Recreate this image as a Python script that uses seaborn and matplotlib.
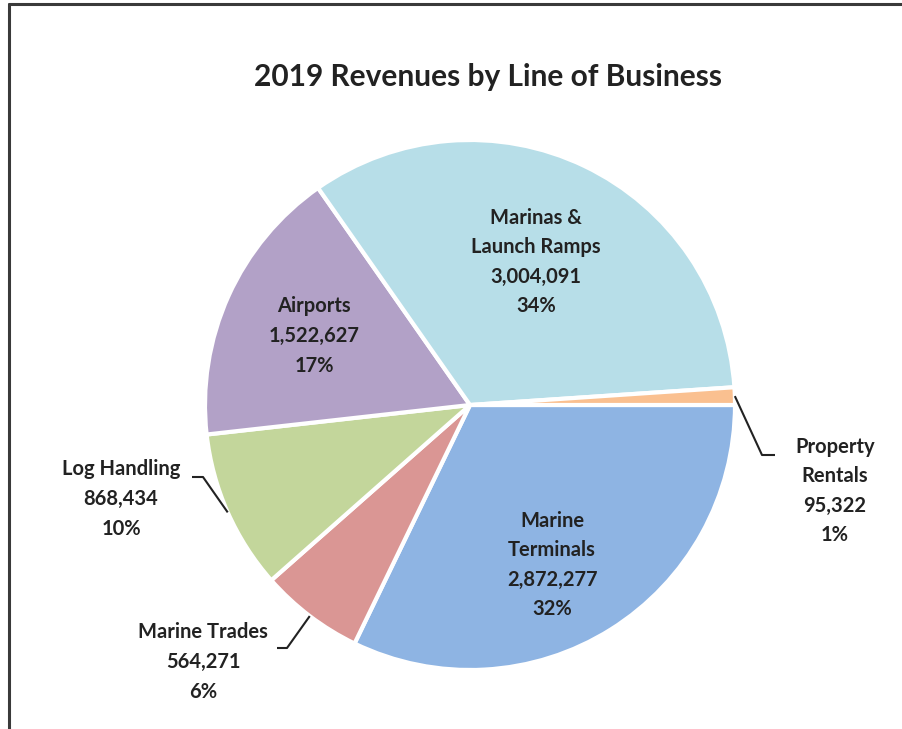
import numpy as np
import matplotlib
matplotlib.use('Agg')
import matplotlib.pyplot as plt
from matplotlib.lines import Line2D
import seaborn as sns

# Data (clockwise from 3 o'clock, as in the source chart)
categories = ['Marine Terminals', 'Marine Trades', 'Log Handling', 'Airports',
              'Marinas & Launch Ramps', 'Property Rentals']
display_names = ['Marine\nTerminals', 'Marine Trades', 'Log Handling', 'Airports',
                 'Marinas &\nLaunch Ramps', 'Property\nRentals']
revenues = [2872277, 564271, 868434, 1522627, 3004091, 95322]
colors = ['#8EB4E3', '#DA9694', '#C3D69B', '#B2A1C7', '#B7DEE8', '#FAC090']
title = '2019 Revenues by Line of Business'

sns.set_theme(style='white')
plt.rcParams['font.family'] = ['Lato', 'DejaVu Sans']

W, H = 902, 729
R = 265            # pie radius in pixels
cx, cy = 470, 405  # pie centre in pixels


def px(x, y):
    # pixel position -> data coords (pie radius = 1)
    return (x - cx) / R, (cy - y) / R


fig = plt.figure(figsize=(W / 100, H / 100), dpi=100)
fig.patch.set_facecolor('white')
ax = fig.add_axes([0, 0, 1, 1])

wedges, _ = ax.pie(revenues, colors=colors, startangle=0, counterclock=False,
                   radius=1, center=(0, 0),
                   wedgeprops=dict(edgecolor='white', linewidth=3))
ax.set_xlim(-cx / R, (W - cx) / R)
ax.set_ylim(-(H - cy) / R, cy / R)
ax.axis('off')

total = sum(revenues)
txt_color = '#222222'

# label layout: (centre x, centre y in pixels, leader elbow, leader end)
layout = {
    'Marinas & Launch Ramps': (536, 262, None, None),
    'Airports': (314, 336, None, None),
    'Marine Terminals': (552, 565, None, None),
    'Property Rentals': (835, 491, (762, 455), (775, 455)),
    'Log Handling': (121, 499, (203, 477), (192, 477)),
    'Marine Trades': (203, 662, (287, 648), (277, 648)),
}

for w, cat, name, val in zip(wedges, categories, display_names, revenues):
    lx, ly, elbow, end = layout[cat]
    pct = round(val / total * 100)
    label = f'{name}\n{val:,}\n{pct}%'
    tx, ty = px(lx, ly)
    ax.text(tx, ty, label, ha='center', va='center', fontsize=14.5,
            fontweight='bold', color=txt_color, linespacing=1.6)
    if elbow is not None:
        mid = np.deg2rad((w.theta1 + w.theta2) / 2)
        sx, sy = np.cos(mid), np.sin(mid)
        ex, ey = px(*elbow)
        fx, fy = px(*end)
        ax.plot([sx, ex, fx], [sy, ey, fy], color=txt_color, lw=1.5,
                solid_capstyle='butt')

fig.text(488 / W, 1 - 77 / H, title, ha='center', va='center',
         fontsize=21.5, fontweight='bold', color=txt_color)

# chart frame (left and top edges visible in the source)
fig.add_artist(Line2D([9 / W, 9 / W], [0, 1 - 4 / H], transform=fig.transFigure,
                      color='#3a3a3a', lw=2.2))
fig.add_artist(Line2D([9 / W, 1], [1 - 4 / H, 1 - 4 / H], transform=fig.transFigure,
                      color='#3a3a3a', lw=2.2))

fig.savefig('out.png', dpi=100, facecolor='white')
